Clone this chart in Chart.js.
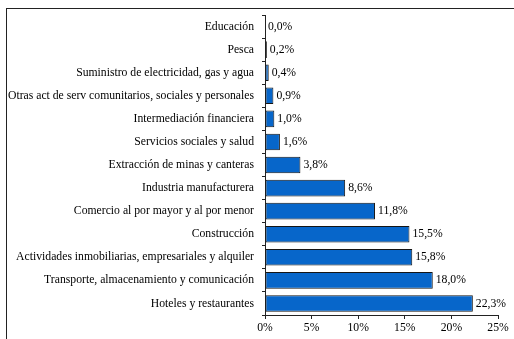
<!DOCTYPE html>
<html lang="es">
<head>
<meta charset="UTF-8">
<title>Distribución por rama de actividad</title>
<script src="https://cdn.jsdelivr.net/npm/chart.js@4"></script>
<style>
  html, body { margin: 0; padding: 0; background: #fff; }
  #wrap { position: relative; width: 514px; height: 339px; overflow: hidden; }
  #frame { position: absolute; left: 6px; top: 8px; width: 600px; height: 400px; border: 1.5px solid #222; box-sizing: border-box; }
  canvas { position: absolute; left: 0; top: 0; }
</style>
</head>
<body>
<div id="wrap">
  <div id="frame"></div>
  <canvas id="chart" width="514" height="339"></canvas>
</div>
<script>
const categories = [
  'Educación',
  'Pesca',
  'Suministro de electricidad, gas y agua',
  'Otras act de serv comunitarios, sociales y personales',
  'Intermediación financiera',
  'Servicios sociales y salud',
  'Extracción de minas y canteras',
  'Industria manufacturera',
  'Comercio al por mayor y al por menor',
  'Construcción',
  'Actividades inmobiliarias, empresariales y alquiler',
  'Transporte, almacenamiento y comunicación',
  'Hoteles y restaurantes'
];
const shares = [0.0, 0.2, 0.4, 0.9, 1.0, 1.6, 3.8, 8.6, 11.8, 15.5, 15.8, 18.0, 22.3];
const xTicks = [0, 5, 10, 15, 20, 25];

const FONT = "'Liberation Serif', 'DejaVu Serif', serif";
const FONT_SIZE = 11.7;
const fmt = v => v.toFixed(1).replace('.', ',') + '%';

// value labels to the right of each bar
const valueLabels = {
  id: 'valueLabels',
  afterDatasetsDraw(chart) {
    const ctx = chart.ctx;
    const meta = chart.getDatasetMeta(0);
    ctx.save();
    ctx.font = FONT_SIZE + 'px ' + FONT;
    ctx.fillStyle = '#000';
    ctx.textAlign = 'left';
    ctx.textBaseline = 'middle';
    meta.data.forEach((bar, i) => {
      ctx.fillText(fmt(shares[i]), bar.x + 3, bar.y);
    });
    ctx.restore();
  }
};

new Chart(document.getElementById('chart'), {
  type: 'bar',
  data: {
    labels: categories,
    datasets: [{
      data: shares,
      backgroundColor: '#0766CA',
      borderColor: '#151515',
      borderWidth: 1,
      borderSkipped: false,
      categoryPercentage: 1,
      barPercentage: 0.72
    }]
  },
  options: {
    indexAxis: 'y',
    responsive: false,
    animation: false,
    layout: { padding: { left: 0, right: 16, top: 15, bottom: 0 } },
    plugins: { legend: { display: false }, tooltip: { enabled: false } },
    scales: {
      x: {
        min: 0,
        max: 25,
        afterBuildTicks: s => { s.ticks = xTicks.map(v => ({ value: v })); },
        afterFit: s => { s.height = 24; },
        border: { display: true, color: '#222', width: 1 },
        grid: { drawOnChartArea: false, drawTicks: true, tickLength: 4, color: '#222' },
        ticks: { color: '#000', font: { family: FONT, size: FONT_SIZE }, padding: 2, callback: v => v + '%' }
      },
      y: {
        afterFit: s => { s.width = 265; },
        border: { display: true, color: '#222', width: 1 },
        grid: { drawOnChartArea: false, drawTicks: true, tickLength: 3, color: '#222', offset: true },
        ticks: { color: '#000', font: { family: FONT, size: FONT_SIZE }, padding: 8, autoSkip: false }
      }
    }
  },
  plugins: [valueLabels]
});
</script>
</body>
</html>
